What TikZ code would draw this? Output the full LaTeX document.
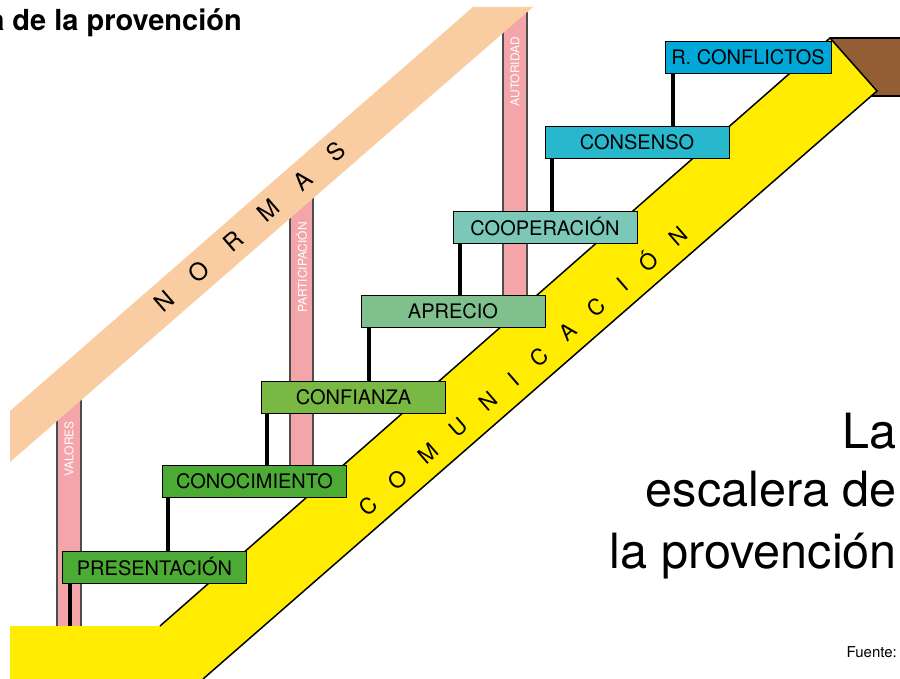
\documentclass[tikz,border=0pt]{standalone}
\usepackage{fontspec}
\setmainfont{TeX Gyre Heros}
\definecolor{peach}{HTML}{F9CDA1}
\definecolor{pillarpink}{HTML}{F3A5AA}
\definecolor{commyellow}{HTML}{FFEC00}
\definecolor{woodbrown}{HTML}{935E36}
\definecolor{greenA}{HTML}{4CAB34}
\definecolor{greenB}{HTML}{78B843}
\definecolor{greenC}{HTML}{80C08D}
\definecolor{tealC}{HTML}{7BC8B9}
\definecolor{cyanC}{HTML}{28B8CE}
\definecolor{blueC}{HTML}{00A8D9}
\definecolor{edgegray}{HTML}{4D4D4D}
\newcommand\ngap{\hspace{27.9pt}}
\newcommand\cgap{\hspace{22.9pt}}
\pgfdeclarelayer{bglayer}
\pgfdeclarelayer{midlayer}
\pgfsetlayers{bglayer,midlayer,main}
\begin{document}
\begin{tikzpicture}[x=1pt,y=-1pt,
  stepbox/.style={draw=black, line width=0.7pt, minimum height=32pt, minimum width=184pt, inner sep=0pt, font=\fontsize{20}{24}\selectfont},
  riser/.style={line width=4pt, black},
  pillartext/.style={rotate=90, text=white, inner sep=0pt, font=\fontsize{12}{14}\selectfont},
  pillaredge/.style={edgegray, line width=1.3pt},
  bandedge/.style={black, line width=1.5pt}]
\useasboundingbox (0,0) rectangle (900,679);

% steps
\node[stepbox, fill=greenA] (presbox) at (154.5,567) {PRESENTACIÓN};
\node[stepbox, fill=greenA] (conobox) at (254.5,481) {CONOCIMIENTO};
\node[stepbox, fill=greenB] (confbox) at (353.5,397) {CONFIANZA};
\node[stepbox, fill=greenC] (aprebox) at (453,311) {APRECIO};
\node[stepbox, fill=tealC] (coopbox) at (545,227) {COOPERACIÓN};
\node[stepbox, fill=cyanC] (consbox) at (637,142) {CONSENSO};
\node[stepbox, fill=blueC, minimum width=166pt] (rconbox) at (748,57) {R. CONFLICTOS};
\coordinate (floor) at (0,626);

\begin{pgfonlayer}{bglayer}
% pillars
\fill[pillarpink] (57,380) rectangle (81,626);
\draw[pillaredge] (57,380) -- (57,626) (81,380) -- (81,626);
\fill[pillarpink] (290,180) rectangle (313,465);
\draw[pillaredge] (290,180) -- (290,465) (313,180) -- (313,465);
\fill[pillarpink] (503,10) rectangle (527,295);
\draw[pillaredge] (503,10) -- (503,295) (527,10) -- (527,295);
% normas band
\fill[peach] (10,411) -- (473,7) -- (533,7) -- (10,462) -- cycle;
% communication band
\fill[woodbrown] (830,38) -- (900,38) -- (900,96) -- (871,96) -- (877,91) -- cycle;
\draw[bandedge] (830,38) -- (900,38) (871,96) -- (900,96);
\fill[commyellow] (10,626) -- (160,626) -- (830,38) -- (877,91) -- (203,679) -- (10,679) -- cycle;
\draw[bandedge] (160,626) -- (830,38) -- (877,91) -- (203,679);
\end{pgfonlayer}

\begin{pgfonlayer}{midlayer}
% risers
\draw[riser] ([xshift=8pt]presbox.south west) -- ([xshift=8pt]presbox.south west |- floor);
\draw[riser] ([xshift=6pt]conobox.south west) -- ([xshift=6pt]conobox.south west |- presbox.north);
\draw[riser] ([xshift=6pt]confbox.south west) -- ([xshift=6pt]confbox.south west |- conobox.north);
\draw[riser] ([xshift=8pt]aprebox.south west) -- ([xshift=8pt]aprebox.south west |- confbox.north);
\draw[riser] ([xshift=7pt]coopbox.south west) -- ([xshift=7pt]coopbox.south west |- aprebox.north);
\draw[riser] ([xshift=7pt]consbox.south west) -- ([xshift=7pt]consbox.south west |- coopbox.north);
\draw[riser] ([xshift=8pt]rconbox.south west) -- ([xshift=8pt]rconbox.south west |- consbox.north);
\end{pgfonlayer}

% pillar labels
\node[pillartext] (valores) at (69,449) {VALORES};
\node[pillartext] (particip) at (301.5,267.5) {PARTICIPACIÓN};
\node[pillartext] (autoridad) at (515,71.5) {AUTORIDAD};

% band labels
\node[rotate=41, inner sep=0pt, font=\fontsize{24}{28}\selectfont, text height=17pt, text depth=0pt] (normas) at (250,227) {N\ngap O\ngap R\ngap M\ngap A\ngap S};
\node[rotate=41, inner sep=0pt, font=\fontsize{22}{26}\selectfont, text height=16pt, text depth=0pt] (comm) at (523,371) {C\cgap O\cgap M\cgap U\cgap N\cgap I\cgap C\cgap A\cgap C\cgap I\cgap Ó\cgap N};

% titles
\node[anchor=base east, inner sep=0pt, font=\bfseries\fontsize{29}{33}\selectfont] (toptitle) at (242,31) {a de la provención};
\node[anchor=base east, inner sep=0pt, font=\fontsize{48.6}{58}\selectfont] (t1) at (897,448) {La};
\node[anchor=base east, inner sep=0pt, font=\fontsize{48.6}{58}\selectfont] (t2) at (897,506) {escalera de};
\node[anchor=base east, inner sep=0pt, font=\fontsize{48.6}{58}\selectfont] (t3) at (897,568) {la provención};
\node[anchor=base east, inner sep=0pt, font=\fontsize{15}{18}\selectfont] (fuente) at (897,657) {Fuente:};
\end{tikzpicture}
\end{document}
